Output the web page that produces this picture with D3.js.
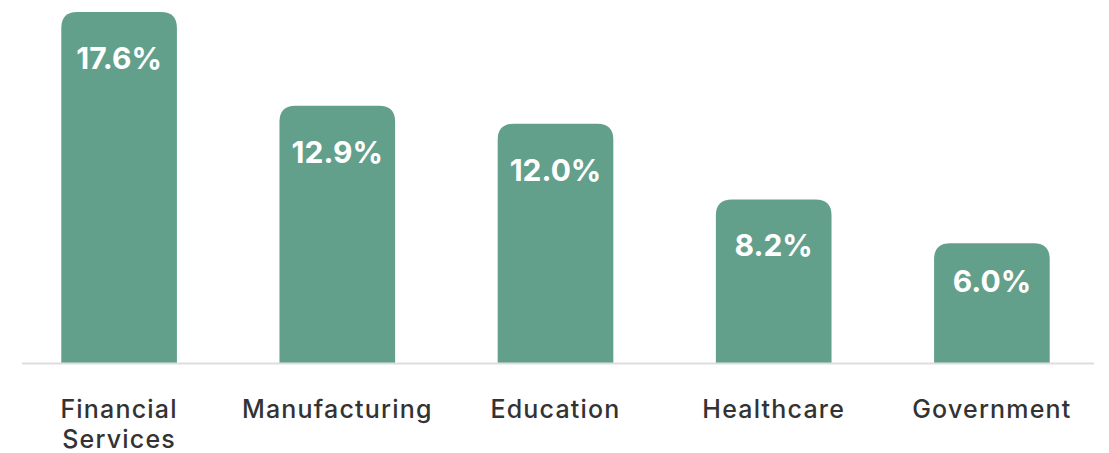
<!DOCTYPE html>
<html>
<head>
<meta charset="utf-8">
<script src="https://cdn.jsdelivr.net/npm/d3@7"></script>
<style>
  html, body { margin: 0; padding: 0; background: #fff; }
  svg { display: block; }
</style>
</head>
<body>
<svg id="chart" width="1109" height="453"></svg>
<script>
// Share by industry
const categories = ["Financial Services", "Manufacturing", "Education", "Healthcare", "Government"];
const values = [17.6, 12.9, 12.0, 8.2, 6.0];
const valueLabels = ["17.6%", "12.9%", "12.0%", "8.2%", "6.0%"];

const width = 1109, height = 453;
const baseY = 363;
const svg = d3.select("#chart");

const x = d3.scaleBand()
  .domain(categories)
  .range([10, 1101])
  .paddingInner(0.47)
  .paddingOuter(0.235);

const y = d3.scaleLinear()
  .domain([0, 17.6])
  .range([baseY, 12]);

const radius = 16;

// bar with rounded top corners only
function barPath(x0, y0, w, h) {
  const r = Math.min(radius, w / 2, h);
  return `M${x0},${y0 + h}` +
    `V${y0 + r}` +
    `Q${x0},${y0} ${x0 + r},${y0}` +
    `H${x0 + w - r}` +
    `Q${x0 + w},${y0} ${x0 + w},${y0 + r}` +
    `V${y0 + h}Z`;
}

const data = categories.map((c, i) => ({ c, v: values[i], label: valueLabels[i] }));

svg.append("g").selectAll("path")
  .data(data)
  .join("path")
  .attr("d", d => barPath(x(d.c), y(d.v), x.bandwidth(), baseY - y(d.v)))
  .attr("fill", "#63a08c");

// baseline
svg.append("line")
  .attr("x1", 22).attr("x2", 1094)
  .attr("y1", baseY + 0.5).attr("y2", baseY + 0.5)
  .attr("stroke", "#dddddd")
  .attr("stroke-width", 2);

// value labels inside bars, pulled up a little on short bars
svg.append("g").selectAll("text")
  .data(data)
  .join("text")
  .attr("x", d => x(d.c) + x.bandwidth() / 2)
  .attr("y", d => y(d.v) + Math.min(57, (baseY - y(d.v)) * 0.41))
  .attr("text-anchor", "middle")
  .attr("fill", "#ffffff")
  .attr("font-family", "Inter, 'Open Sans', sans-serif")
  .attr("font-weight", 700)
  .attr("font-size", 30)
  .text(d => d.label);

// category labels, split onto two lines where needed
const catLabels = {
  "Financial Services": ["Financial", "Services"]
};
const xg = svg.append("g");
data.forEach(d => {
  const lines = catLabels[d.c] || [d.c];
  const cx = x(d.c) + x.bandwidth() / 2;
  const t = xg.append("text")
    .attr("x", cx)
    .attr("y", 418)
    .attr("text-anchor", "middle")
    .attr("fill", "#333333")
    .attr("font-family", "Inter, 'Open Sans', sans-serif")
    .attr("font-weight", 500)
    .attr("font-size", 25)
    .attr("letter-spacing", 1.2);
  lines.forEach((l, i) => {
    t.append("tspan")
      .attr("x", cx)
      .attr("dy", i === 0 ? 0 : 30)
      .text(l);
  });
});
</script>
</body>
</html>
